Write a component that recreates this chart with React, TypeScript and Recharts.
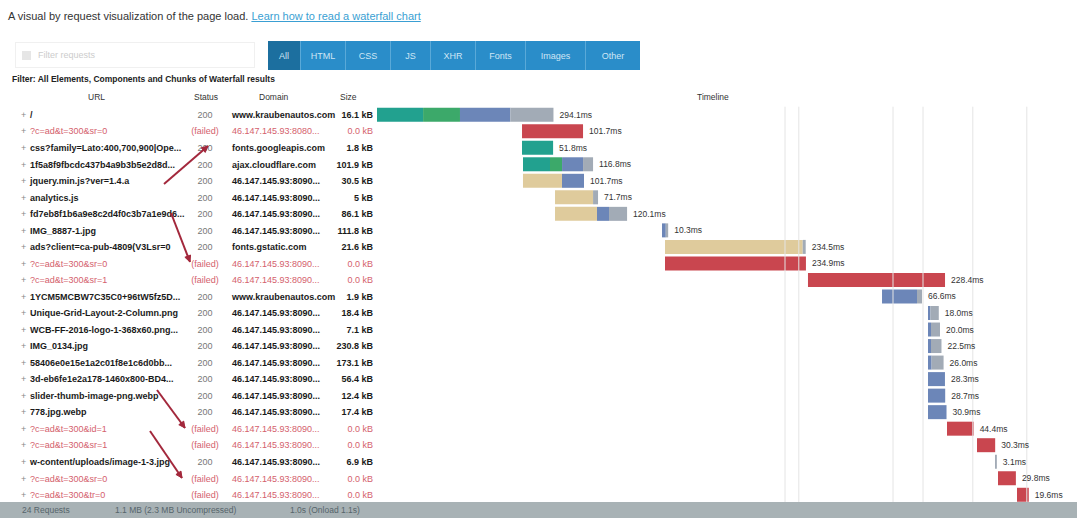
import React from 'react';
import { BarChart, Bar, XAxis, YAxis, LabelList, ReferenceLine } from 'recharts';

// request rows, top to bottom
const urls = [
  '/',
  '?c=ad&t=300&sr=0',
  'css?family=Lato:400,700,900|Ope...',
  '1f5a8f9fbcdc437b4a9b3b5e2d8d...',
  'jquery.min.js?ver=1.4.a',
  'analytics.js',
  'fd7eb8f1b6a9e8c2d4f0c3b7a1e9d6...',
  'IMG_8887-1.jpg',
  'ads?client=ca-pub-4809(V3Lsr=0',
  '?c=ad&t=300&sr=0',
  '?c=ad&t=300&sr=1',
  '1YCM5MCBW7C35C0+96tW5fz5D...',
  'Unique-Grid-Layout-2-Column.png',
  'WCB-FF-2016-logo-1-368x60.png...',
  'IMG_0134.jpg',
  '58406e0e15e1a2c01f8e1c6d0bb...',
  '3d-eb6fe1e2a178-1460x800-BD4...',
  'slider-thumb-image-png.webp',
  '778.jpg.webp',
  '?c=ad&t=300&id=1',
  '?c=ad&t=300&sr=1',
  'w-content/uploads/image-1-3.jpg',
  '?c=ad&t=300&sr=0',
  '?c=ad&t=300&tr=0',
];
const statuses = ['200', '(failed)', '200', '200', '200', '200', '200', '200', '200', '(failed)', '(failed)', '200', '200', '200', '200', '200', '200', '200', '200', '(failed)', '(failed)', '200', '(failed)', '(failed)'];
const domains = [
  'www.kraubenautos.com',
  '46.147.145.93:8080...',
  'fonts.googleapis.com',
  'ajax.cloudflare.com',
  '46.147.145.93:8090...',
  '46.147.145.93:8090...',
  '46.147.145.93:8090...',
  '46.147.145.93:8090...',
  'fonts.gstatic.com',
  '46.147.145.93:8090...',
  '46.147.145.93:8090...',
  'www.kraubenautos.com',
  '46.147.145.93:8090...',
  '46.147.145.93:8090...',
  '46.147.145.93:8090...',
  '46.147.145.93:8090...',
  '46.147.145.93:8090...',
  '46.147.145.93:8090...',
  '46.147.145.93:8090...',
  '46.147.145.93:8090...',
  '46.147.145.93:8090...',
  '46.147.145.93:8090...',
  '46.147.145.93:8090...',
  '46.147.145.93:8090...',
];
const sizes = ['16.1 kB', '0.0 kB', '1.8 kB', '101.9 kB', '30.5 kB', '5 kB', '86.1 kB', '111.8 kB', '21.6 kB', '0.0 kB', '0.0 kB', '1.9 kB', '18.4 kB', '7.1 kB', '230.8 kB', '173.1 kB', '56.4 kB', '12.4 kB', '17.4 kB', '0.0 kB', '0.0 kB', '6.9 kB', '0.0 kB', '0.0 kB'];

// timings in ms
const startMs = [0, 241.7, 241.7, 243.3, 243.3, 296.7, 296.7, 475, 480, 480, 718.3, 841.7, 918.3, 918.3, 918.3, 918.3, 918.3, 918.3, 918.3, 950, 1000, 1030, 1035, 1066.7];
const blockedMs = [0, 0, 0, 0, 65, 63.4, 70, 0, 229.5, 0, 0, 0, 0, 0, 0, 0, 0, 0, 0, 0, 0, 0, 0, 0];
const dnsMs = [76.8, 0, 51.8, 45, 0, 0, 0, 0, 0, 0, 0, 0, 0, 0, 0, 0, 0, 0, 0, 0, 0, 0, 0, 0];
const connectMs = [61.5, 0, 0, 20.1, 0, 0, 0, 0, 0, 0, 0, 0, 0, 0, 0, 0, 0, 0, 0, 0, 0, 0, 0, 0];
const waitMs = [83.9, 0, 0, 35, 36.7, 0, 20, 6.3, 0, 0, 0, 58.3, 4, 5, 5, 6, 28.3, 28.7, 30.9, 0, 0, 0, 0, 0];
const receiveMs = [71.9, 0, 0, 16.7, 0, 8.3, 30.1, 4, 5, 0, 0, 8.3, 14, 15, 17.5, 20, 0, 0, 0, 0, 0, 3.1, 0, 0];
const redirectMs = [0, 101.7, 0, 0, 0, 0, 0, 0, 0, 234.9, 228.4, 0, 0, 0, 0, 0, 0, 0, 0, 44.4, 30.3, 0, 29.8, 19.6];

const markerMs = [680, 703, 860, 910, 993, 1083];

const segKeys = ['blocked', 'dns', 'connect', 'wait', 'receive', 'redirect'];
const segColors = ['#dfcb9c', '#22a18f', '#3ca96a', '#6c86b8', '#a2abb6', '#c9464f'];

const rows = urls.map((url, i) => {
  const seg: any = {
    blocked: blockedMs[i],
    dns: dnsMs[i],
    connect: connectMs[i],
    wait: waitMs[i],
    receive: receiveMs[i],
    redirect: redirectMs[i],
  };
  const total = segKeys.reduce((s, k) => s + seg[k], 0);
  const last = segKeys.filter((k) => seg[k] > 0).pop();
  return {
    id: 'r' + i,
    url,
    status: statuses[i],
    domain: domains[i],
    size: sizes[i],
    failed: statuses[i] === '(failed)',
    start: startMs[i],
    ...seg,
    last,
    label: total.toFixed(1) + 'ms',
  };
});

const FONT = '"Liberation Sans", Arial, sans-serif';

const RowTick = (props: any) => {
  const { y, payload } = props;
  const r = rows.find((d) => d.id === payload.value);
  if (!r) return null;
  const c = r.failed ? '#d4616d' : '#1a1a1a';
  const w = r.failed ? 'normal' : 'bold';
  return (
    <g fontFamily={FONT} fontSize={9}>
      <text x={21} y={y} dy={3} fill="#888">+</text>
      <text x={30} y={y} dy={3} fill={c} fontWeight={w}>{r.url}</text>
      <text x={205} y={y} dy={3} fill={r.failed ? '#d4616d' : '#777'} textAnchor="middle">{r.status}</text>
      <text x={232} y={y} dy={3} fill={c} fontWeight={w}>{r.domain}</text>
      <text x={373} y={y} dy={3} fill={c} fontWeight={w} textAnchor="end">{r.size}</text>
    </g>
  );
};

// duration text after the last segment of each row
const endLabel = (key: string) => (props: any) => {
  const { x, y, width, height, value } = props;
  const r = rows.find((d) => d.id === value);
  if (!r || r.last !== key) return null;
  return (
    <text x={Number(x) + Number(width) + 6} y={Number(y) + Number(height) / 2 + 3} fontSize={8.5} fill="#333" fontFamily={FONT}>
      {r.label}
    </text>
  );
};

const filters = ['All', 'HTML', 'CSS', 'JS', 'XHR', 'Fonts', 'Images', 'Other'];
const filterW = [32, 45, 45, 40, 45, 50, 60, 55];

const Arrow = ({ x1, y1, x2, y2 }: any) => {
  const a = Math.atan2(y2 - y1, x2 - x1);
  const h = 7;
  const p1 = [x2 - h * Math.cos(a - 0.45), y2 - h * Math.sin(a - 0.45)];
  const p2 = [x2 - h * Math.cos(a + 0.45), y2 - h * Math.sin(a + 0.45)];
  return (
    <g stroke="#a3283c" strokeWidth={2} fill="#a3283c">
      <line x1={x1} y1={y1} x2={x2} y2={y2} />
      <polygon points={`${x2},${y2} ${p1[0]},${p1[1]} ${p2[0]},${p2[1]}`} strokeWidth={1} />
    </g>
  );
};

export default function App() {
  return (
    <div style={{ position: 'fixed', left: 0, top: 0, width: 1077, height: 518, background: '#fff', fontFamily: FONT, overflow: 'hidden' }}>
      <div style={{ position: 'absolute', left: 8, top: 10, fontSize: 11, color: '#333', whiteSpace: 'nowrap' }}>
        A visual by request visualization of the page load.{' '}
        <span style={{ color: '#3a9fd3', textDecoration: 'underline' }}>Learn how to read a waterfall chart</span>
      </div>

      <div style={{ position: 'absolute', left: 15, top: 42, width: 240, height: 26, border: '1px solid #f0f0f0', boxSizing: 'border-box' }}>
        <div style={{ position: 'absolute', left: 6, top: 8, width: 9, height: 9, background: '#e6e6e6' }} />
        <div style={{ position: 'absolute', left: 22, top: 7, fontSize: 9, color: '#ccc' }}>Filter requests</div>
      </div>

      <div style={{ position: 'absolute', left: 268, top: 41, height: 29, display: 'flex' }}>
        {filters.map((f, i) => (
          <div key={f} style={{ width: filterW[i], height: 29, background: i === 0 ? '#1c6f9f' : '#2a8dc9', color: '#cfe6f5', fontSize: 9, display: 'flex', alignItems: 'center', justifyContent: 'center', borderLeft: i > 0 ? '1px solid #5aa9d8' : 'none', boxSizing: 'border-box' }}>
            {f}
          </div>
        ))}
      </div>

      <div style={{ position: 'absolute', left: 12, top: 74, fontSize: 8.5, fontWeight: 'bold', color: '#222', whiteSpace: 'nowrap' }}>
        Filter: All Elements, Components and Chunks of Waterfall results
      </div>
      <div style={{ position: 'absolute', top: 92, left: 0, width: 1077, fontSize: 8.5, color: '#333' }}>
        <span style={{ position: 'absolute', left: 88 }}>URL</span>
        <span style={{ position: 'absolute', left: 194 }}>Status</span>
        <span style={{ position: 'absolute', left: 259 }}>Domain</span>
        <span style={{ position: 'absolute', left: 340 }}>Size</span>
        <span style={{ position: 'absolute', left: 697 }}>Timeline</span>
      </div>

      <div style={{ position: 'absolute', left: 0, top: 0 }}>
        <BarChart width={1077} height={518} data={rows} layout="vertical" margin={{ top: 106.7, right: 4, bottom: 14.7, left: 0 }} barSize={14}>
          <XAxis type="number" domain={[0, 1160]} hide />
          <YAxis type="category" dataKey="id" width={377} axisLine={false} tickLine={false} interval={0} tick={(p: any) => <RowTick {...p} />} />
          {markerMs.map((m) => (
            <ReferenceLine key={m} x={m} stroke="#e4e4e4" strokeWidth={1} />
          ))}
          <Bar dataKey="start" stackId="t" fill="transparent" isAnimationActive={false} />
          {segKeys.map((k, i) => (
            <Bar key={k} dataKey={k} stackId="t" fill={segColors[i]} isAnimationActive={false}>
              <LabelList dataKey="id" content={endLabel(k)} />
            </Bar>
          ))}
        </BarChart>
      </div>

      <div style={{ position: 'absolute', left: 0, top: 502, width: 1077, height: 16, background: '#a8b2b5', fontSize: 8.5, color: '#56656b' }}>
        <span style={{ position: 'absolute', left: 22, top: 3 }}>24 Requests</span>
        <span style={{ position: 'absolute', left: 115, top: 3 }}>1.1 MB (2.3 MB Uncompressed)</span>
        <span style={{ position: 'absolute', left: 290, top: 3 }}>1.0s (Onload 1.1s)</span>
      </div>

      <svg width={1077} height={518} style={{ position: 'absolute', left: 0, top: 0, pointerEvents: 'none' }}>
        <Arrow x1={164} y1={184} x2={208} y2={146} />
        <Arrow x1={171} y1={213} x2={190} y2={262} />
        <Arrow x1={157} y1={390} x2={185} y2={428} />
        <Arrow x1={150} y1={431} x2={182} y2={478} />
      </svg>
    </div>
  );
}
